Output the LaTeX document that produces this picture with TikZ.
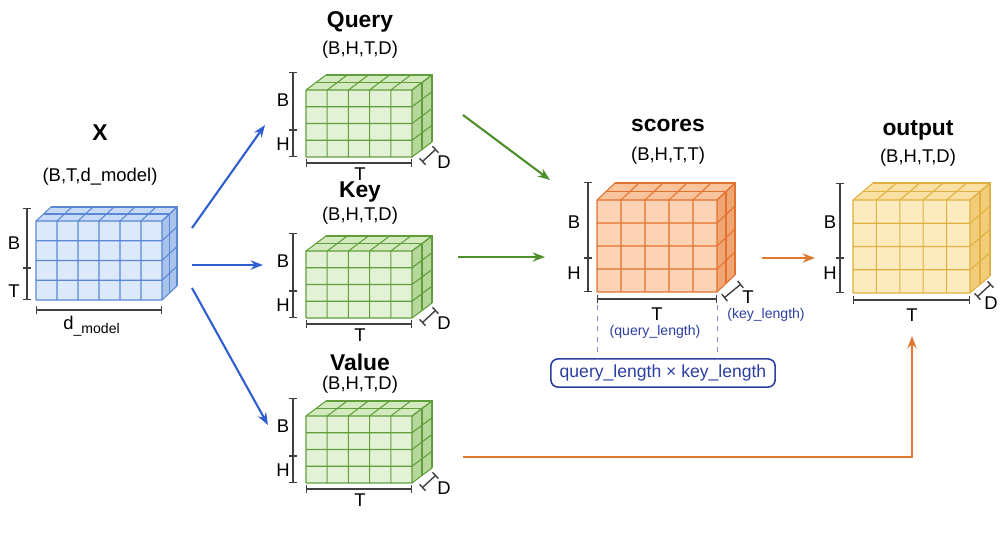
\documentclass[tikz,border=0pt]{standalone}
\usepackage{fontspec}
\setmainfont{Liberation Sans}
\usetikzlibrary{arrows.meta}
\definecolor{bluef}{HTML}{DCE9FB}\definecolor{bluet}{HTML}{C8DBF6}\definecolor{blues}{HTML}{A9C3EC}\definecolor{bluel}{HTML}{5B87D6}
\definecolor{greenf}{HTML}{E3F2D6}\definecolor{greent}{HTML}{D3EABF}\definecolor{greens}{HTML}{B5D79A}\definecolor{greenl}{HTML}{5F9E3A}
\definecolor{orangef}{HTML}{FCD3B4}\definecolor{oranget}{HTML}{F9C39C}\definecolor{oranges}{HTML}{F0A574}\definecolor{orangel}{HTML}{E3722F}
\definecolor{yelf}{HTML}{FDEBC0}\definecolor{yelt}{HTML}{FBE0A4}\definecolor{yels}{HTML}{F2CC78}\definecolor{yell}{HTML}{E0B040}
\definecolor{arrblue}{HTML}{2F5FCF}\definecolor{arrgreen}{HTML}{4E8F2C}\definecolor{arrorange}{HTML}{E07A30}\definecolor{navy}{HTML}{2C3FA0}
\newcommand\mycube[9]{%
 \fill[#9f] (#1,#2) rectangle (#1+#3,#2+#4);
 \fill[#9t] (#1,#2) -- (#1+#3,#2) -- (#1+#3+#7,#2+#8) -- (#1+#7,#2+#8) -- cycle;
 \fill[#9s] (#1+#3,#2) -- (#1+#3+#7,#2+#8) -- (#1+#3+#7,#2+#4+#8) -- (#1+#3,#2+#4) -- cycle;
 \begin{scope}[draw=#9l, line width=0.6pt]
 \foreach \i in {0,...,#5}{\draw (#1+\i*#3/#5,#2+#4) -- (#1+\i*#3/#5,#2) -- (#1+\i*#3/#5+#7,#2+#8);}
 \foreach \j in {0,...,#6}{\draw (#1,#2+\j*#4/#6) -- (#1+#3,#2+\j*#4/#6) -- (#1+#3+#7,#2+\j*#4/#6+#8);}
 \draw (#1+0.5*#7,#2+0.5*#8) -- (#1+#3+0.5*#7,#2+0.5*#8) -- (#1+#3+0.5*#7,#2+#4+0.5*#8);
 \draw (#1+#7,#2+#8) -- (#1+#3+#7,#2+#8) -- (#1+#3+#7,#2+#4+#8);
 \end{scope}}
\tikzset{dim/.style={draw=black!75, line width=0.8pt, {Bar[width=5pt]}-{Bar[width=5pt]}},
 lab/.style={font=\fontsize{10.5}{12}\selectfont, inner sep=1pt},
 ttl/.style={font=\bfseries\fontsize{13}{15}\selectfont, inner sep=1pt},
 sml/.style={font=\fontsize{8}{10}\selectfont, text=navy, inner sep=1pt},
 blarr/.style={arrblue, line width=1.2pt, -{Stealth[length=7pt]}},
 grarr/.style={arrgreen, line width=1.2pt, -{Stealth[length=7pt]}},
 orarr/.style={arrorange, line width=1.2pt, -{Stealth[length=7pt]}}}
\begin{document}
\begin{tikzpicture}[x=0.02cm,y=-0.02cm]
\useasboundingbox (0,0) rectangle (1000,548);
% cubes
\mycube{36}{221}{126}{79}{6}{4}{15}{-14}{blue}
\mycube{306}{90}{106}{67}{5}{4}{20}{-15}{green}
\mycube{306}{251}{106}{67}{5}{4}{20}{-15}{green}
\mycube{306}{416}{106}{67}{5}{4}{20}{-15}{green}
\mycube{597}{200}{120}{92}{5}{4}{18}{-17}{orange}
\mycube{853}{200}{117}{93}{5}{4}{20}{-17}{yel}
% titles
\node[ttl] (tx) at (100,133) {X};
\node[lab] (sx) at (100,177) {(B,T,d\_model)};
\node[ttl] (tq) at (360,22) {Query};
\node[lab] (sq) at (360,50) {(B,H,T,D)};
\node[ttl] (tk) at (360,192) {Key};
\node[lab] (sk) at (360,216) {(B,H,T,D)};
\node[ttl] (tv) at (360,362) {Value};
\node[lab] (sv) at (360,385) {(B,H,T,D)};
\node[ttl] (ts) at (668,125) {scores};
\node[lab] (ss) at (668,156) {(B,H,T,T)};
\node[ttl] (to) at (918,130) {output};
\node[lab] (so) at (918,158) {(B,H,T,D)};
% X dims
\draw[dim] (27,208) -- (27,268); \draw[dim] (27,268) -- (27,300);
\node[lab] (xb) at (14,243) {B}; \node[lab] (xt) at (14,291) {T};
\draw[dim] (36,310) -- (162,310);
\node[lab] (xd) at (92,326) {d\textsubscript{\fontsize{8}{8}\selectfont\_model}};
% QKV dims
\foreach \y/\n in {0/q,161/k,326/v}{
 \draw[dim] (293,72+\y) -- (293,130+\y); \draw[dim] (293,130+\y) -- (293,157+\y);
 \node[lab] (b\n) at (283,100+\y) {B}; \node[lab] (h\n) at (283,144+\y) {H};
 \draw[dim] (306,163+\y) -- (412,163+\y); \node[lab] (t\n) at (360,174+\y) {T};
 \draw[dim] (422,162+\y) -- (436,149+\y); \node[lab] (d\n) at (444,162+\y) {D};
}
% scores dims
\draw[dim] (588,182) -- (588,258); \draw[dim] (588,258) -- (588,292);
\node[lab] (bs) at (574,222) {B}; \node[lab] (hs) at (574,273) {H};
\draw[dim] (597,299) -- (717,299); \node[lab] (tsq) at (657,314) {T};
\node[sml] (ql) at (655,332) {(query\_length)};
\draw[dim] (724,298) -- (741,284); \node[lab] (tsk) at (748,297) {T};
\node[sml] (kl) at (766,315) {(key\_length)};
\node[draw=navy, rounded corners=4pt, line width=0.9pt, minimum width=112pt, minimum height=16pt, text=navy, font=\fontsize{10}{12}\selectfont, inner xsep=5pt, inner ysep=3pt] (box) at (663,373) {query\_length × key\_length};
\draw[navy!60, dashed] (597,305) -- (597,359); \draw[navy!60, dashed] (717,305) -- (717,359);
% output dims
\draw[dim] (840,183) -- (840,258); \draw[dim] (840,258) -- (840,293);
\node[lab] (bo) at (830,222) {B}; \node[lab] (ho) at (830,273) {H};
\draw[dim] (853,300) -- (970,300); \node[lab] (tout) at (912,315) {T};
\draw[dim] (977,297) -- (991,284); \node[lab] (dout) at (991,303) {D};
% arrows
\coordinate (a1) at (192,228); \coordinate (a2) at (265,125);
\coordinate (a3) at (192,265); \coordinate (a4) at (263,265);
\coordinate (a5) at (192,288); \coordinate (a6) at (268,425);
\draw[blarr] (a1) -- (a2); \draw[blarr] (a3) -- (a4); \draw[blarr] (a5) -- (a6);
\coordinate (g1) at (463,115); \coordinate (g2) at (550,180);
\coordinate (g3) at (458,257); \coordinate (g4) at (545,257);
\draw[grarr] (g1) -- (g2); \draw[grarr] (g3) -- (g4);
\coordinate (o1) at (762,258); \coordinate (o2) at (815,258);
\coordinate (o3) at (463,457); \coordinate (o4) at (912,336);
\draw[orarr] (o1) -- (o2); \draw[orarr] (o3) -| (o4);
\end{tikzpicture}
\end{document}
